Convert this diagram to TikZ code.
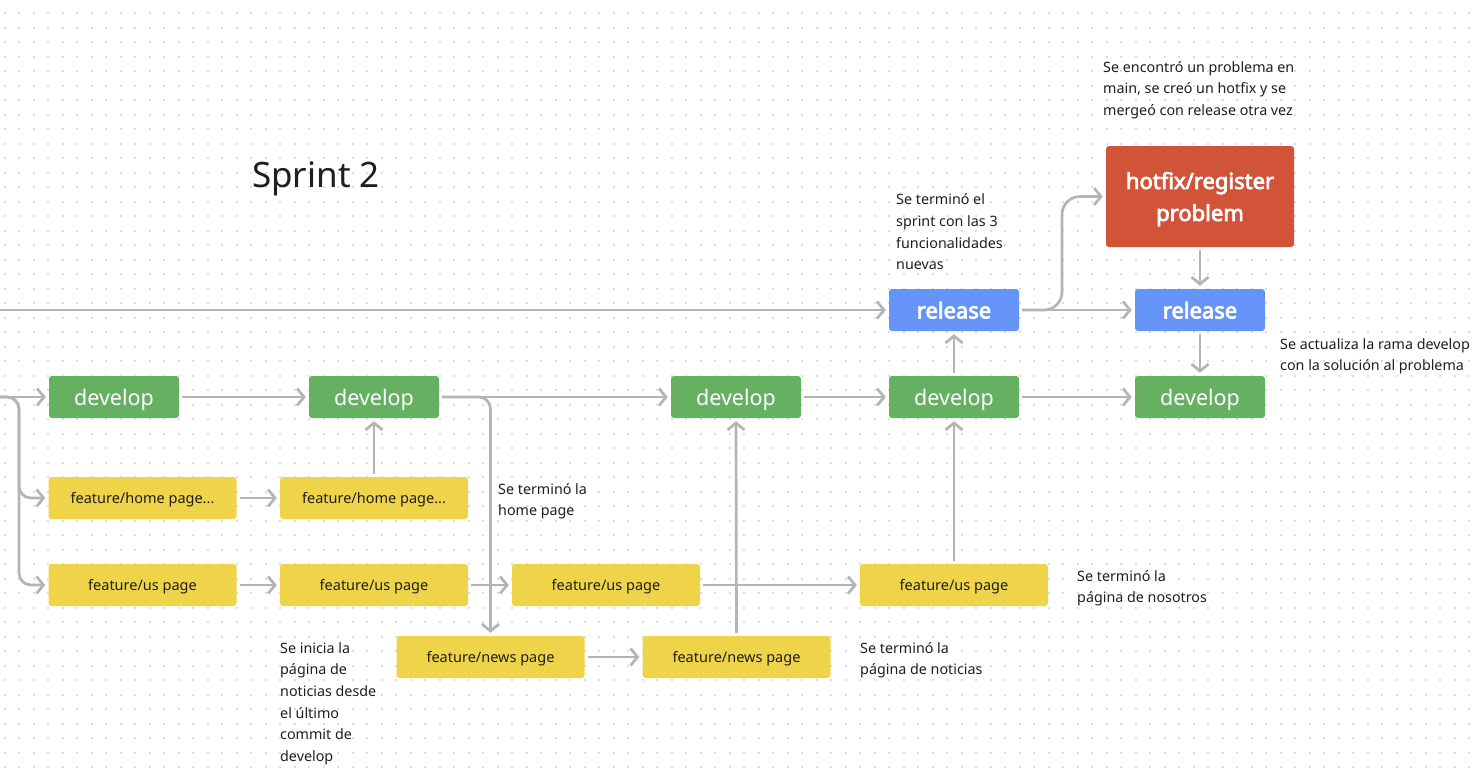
\documentclass[tikz,border=0pt]{standalone}
\usepackage{fontspec}
\setmainfont{Noto Sans}
\newfontfamily\boldfam{Noto Sans}[FakeBold=3.5]
\usetikzlibrary{arrows.meta}
\definecolor{devgreen}{HTML}{66B061}
\definecolor{relblue}{HTML}{6494F8}
\definecolor{hotred}{HTML}{D15338}
\definecolor{featyellow}{HTML}{EFD44A}
\definecolor{linegray}{HTML}{B4B4B4}
\definecolor{textdark}{HTML}{1E1E1E}
\definecolor{dotgray}{HTML}{DCDCDC}
\begin{document}
\begin{tikzpicture}[x=1pt,y=-1pt,
  box/.style={rectangle, rounded corners=3, minimum height=42, inner sep=0, text=white, text depth=0},
  dev/.style={box, fill=devgreen, minimum width=130, font=\fontsize{21.5}{24}\selectfont},
  rel/.style={box, fill=relblue, minimum width=130, font=\boldfam\fontsize{22}{24}\selectfont},
  hot/.style={box, fill=hotred, minimum width=188, minimum height=101, align=center, font=\boldfam\fontsize{22}{32}\selectfont},
  feat/.style={box, fill=featyellow, minimum width=188, text=textdark, font=\fontsize{14.5}{17}\selectfont},
  conn/.style={draw=linegray, line width=2.7, shorten >=3, shorten <=3, -{Straight Barb[length=7,width=17]}},
  note/.style={anchor=north west, inner sep=0, align=left, text=textdark, font=\fontsize{14.3}{21.7}\selectfont, execute at begin node=\strut}]
% background
\fill[white] (0,0) rectangle (1483,769);
\useasboundingbox (0,0) rectangle (1483,769);
\foreach \r in {0,...,52}{
  \draw[dotgray, line width=2, dash pattern=on 2 off 12.5] (3.7,13+14.5*\r) -- (1483,13+14.5*\r);
}
% title
\node[anchor=west, inner sep=0, text=textdark, font=\fontsize{35}{40}\selectfont] (title) at (252,179) {Sprint 2};
% nodes
\node[dev] (d1) at (114,397) {develop};
\node[dev] (d2) at (374,397) {develop};
\node[dev] (d3) at (736,397) {develop};
\node[dev] (d4) at (954,397) {develop};
\node[dev] (d5) at (1200,397) {develop};
\node[rel] (r1) at (954,310) {release};
\node[rel] (r2) at (1200,310) {release};
\node[hot] (hf) at (1200,196.5) {hotfix/register\\problem};
\node[feat] (fh1) at (142.5,498) {feature/home page...};
\node[feat] (fh2) at (374,498) {feature/home page...};
\node[feat] (fu1) at (142.5,585) {feature/us page};
\node[feat] (fu2) at (374,585) {feature/us page};
\node[feat] (fu3) at (606,585) {feature/us page};
\node[feat] (fu4) at (954,585) {feature/us page};
\node[feat] (fn1) at (490.5,657) {feature/news page};
\node[feat] (fn2) at (736.5,657) {feature/news page};
% free ends
\coordinate (mainL) at (0,310);
\coordinate (devL) at (0,397);
\coordinate (lbend) at (19,397);
\coordinate (hbend) at (1062,310);
% connectors
\draw[conn, shorten <=0] (mainL) -- (r1.west);
\draw[conn, shorten <=0] (devL) -- (d1.west);
\draw[conn, shorten <=0, rounded corners=12] (devL) -- (lbend) |- (fh1.west);
\draw[conn, shorten <=0, rounded corners=12] (devL) -- (lbend) |- (fu1.west);
\draw[conn] (d1) -- (d2);
\draw[conn] (fh1) -- (fh2);
\draw[conn] (fh2) -- (d2);
\draw[conn] (fu1) -- (fu2);
\draw[conn] (fu2) -- (fu3);
\draw[conn] (d2) -- (d3);
\draw[conn, rounded corners=12] (d2.east) -| (fn1.north);
\draw[conn] (fn1) -- (fn2);
\draw[conn] (fn2.north) -- (d3.south);
\draw[conn] (fu3) -- (fu4);
\draw[conn] (d3) -- (d4);
\draw[conn] (fu4.north) -- (d4.south);
\draw[conn] (d4) -- (r1);
\draw[conn] (d4) -- (d5);
\draw[conn] (r1) -- (r2);
\draw[conn, rounded corners=18] (r1.east) -- (hbend) |- (hf.west);
\draw[conn] (hf) -- (r2);
\draw[conn] (r2) -- (d5);
% notes
\node[note] (n1) at (1103,61) {Se encontró un problema en\\main, se creó un hotfix y se\\mergeó con release otra vez};
\node[note] (n2) at (896,193.5) {Se terminó el\\sprint con las 3\\funcionalidades\\nuevas};
\node[note] (n3) at (1280,338) {Se actualiza la rama develop\\con la solución al problema};
\node[note] (n4) at (498,483) {Se terminó la\\home page};
\node[note] (n5) at (1077,570) {Se terminó la\\página de nosotros};
\node[note] (n6) at (860,642) {Se terminó la\\página de noticias};
\node[note] (n7) at (280,642) {Se inicia la\\página de\\noticias desde\\el último\\commit de\\develop};
\end{tikzpicture}
\end{document}
